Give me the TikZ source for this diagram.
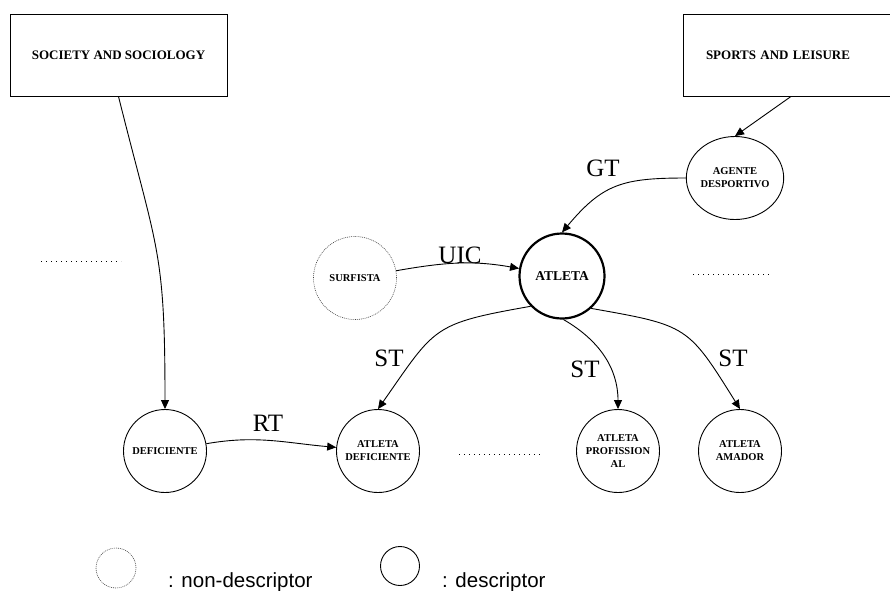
\documentclass[tikz,border=0pt]{standalone}
\usepackage{fontspec}
\setmainfont{Liberation Serif}
\newfontfamily\legendfont{Liberation Sans}
\usetikzlibrary{arrows.meta,shapes.geometric}

\begin{document}
\begin{tikzpicture}[x=1pt,y=1pt,
    topic/.style={draw, line width=0.9pt, minimum height=82pt,
      font=\fontsize{13}{15}\selectfont\bfseries},
    term/.style={draw, circle, line width=0.9pt, minimum size=83pt, inner sep=0pt,
      align=center, font=\fontsize{10.5}{13}\selectfont\bfseries},
    nonterm/.style={term, densely dotted, line width=0.6pt, draw=black!75},
    rel/.style={-{Triangle[length=9pt,width=8pt]}, line width=0.9pt},
    lab/.style={font=\fontsize{25}{25}\selectfont},
    more/.style={line width=1pt, dash pattern=on 1pt off 4pt},
    key/.style={anchor=base west, inner sep=0pt, font=\legendfont\fontsize{20.5}{21}\selectfont}]
  \useasboundingbox (0,0) rectangle (890,-590);

  \node[topic, minimum width=217pt] (soc) at (118.5,-55) {SOCIETY AND SOCIOLOGY};
  \node[topic, text width=170pt, inner xsep=23pt, align=left] (sports) at (791,-55) {SPORTS AND LEISURE};

  \node[term, shape=ellipse, minimum width=91pt, minimum height=83pt] (agente) at (735,-178) {AGENTE\\DESPORTIVO};
  \node[nonterm] (surf) at (355,-278) {SURFISTA};
  \node[term, minimum size=85pt, line width=2.2pt, font=\fontsize{13.5}{15}\selectfont\bfseries] (atleta) at (562,-276) {ATLETA};
  \node[term] (def) at (165,-451) {DEFICIENTE};
  \node[term] (atdef) at (378,-451) {ATLETA\\DEFICIENTE};
  \node[term] (prof) at (618,-451) {ATLETA\\PROFISSION\\AL};
  \node[term] (amador) at (740,-451) {ATLETA\\AMADOR};

  \draw[rel] (soc.south) to[out=-76, in=90, looseness=1.3] (def.north);
  \draw[rel] (sports.south) -- (agente.north);
  \draw[rel] (agente.west) to[out=180, in=50, looseness=1.2] (atleta.north);
  \draw[rel] (surf) to[out=10, in=170] (atleta);
  \draw[rel] (atleta.224) to[out=190, in=55, looseness=1.4] (atdef.north);
  \draw[rel] (atleta.-88) to[out=-30, in=90] (prof.north);
  \draw[rel] (atleta.-48) to[out=-10, in=122, looseness=1.4] (amador.north);
  \draw[rel] (def) to[out=10, in=175] (atdef);

  \node[lab] (gt) at (603,-168) {GT};
  \node[lab] (uic) at (460,-255) {UIC};
  \node[lab] (stdef) at (389,-358) {ST};
  \node[lab] (stprof) at (585,-369) {ST};
  \node[lab] (stam) at (733,-358) {ST};
  \node[lab] (rt) at (268,-423) {RT};

  \draw[more] (41,-261) -- (121,-261);
  \draw[more] (693,-274) -- (771,-274);
  \draw[more] (459,-454) -- (540,-454);

  \node[nonterm, minimum size=40pt] (keynon) at (116,-568) {};
  \node[term, minimum size=39pt] (keydes) at (400,-566) {};
  \node[key] (keynontxt) at (168,-587) {: non-descriptor};
  \node[key] (keydestxt) at (442,-587) {: descriptor};
\end{tikzpicture}
\end{document}
